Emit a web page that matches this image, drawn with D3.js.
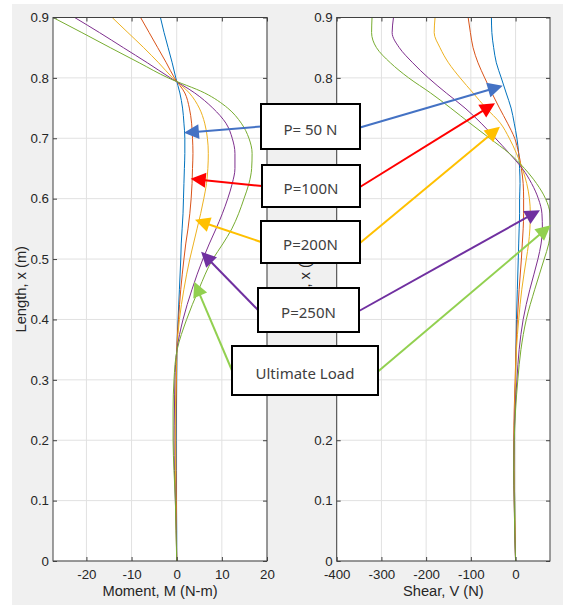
<!DOCTYPE html>
<html>
<head>
<meta charset="utf-8">
<script src="https://cdn.jsdelivr.net/npm/d3@7"></script>
<style>
  body { margin: 0; background: #fff; }
  svg { display: block; }
</style>
</head>
<body>
<script>
// Positions along the member, x (m)
const lengthX = [0, 0.05, 0.1, 0.15, 0.2, 0.25, 0.3, 0.35, 0.4, 0.45, 0.5, 0.525, 0.55, 0.575,
                 0.6, 0.625, 0.65, 0.675, 0.7, 0.725, 0.75, 0.775, 0.8, 0.825, 0.85, 0.875, 0.9];

const loadLabels = ["P= 50 N", "P=100N", "P=200N", "P=250N", "Ultimate Load"];

// Bending moment, M (N-m)
const momentP50  = [0, 0, -0.05, -0.1, -0.1, -0.05, 0, 0.05, 0.3, 0.6, 0.9, 1.0, 1.2, 1.4,
                    1.5, 1.6, 1.7, 1.8, 1.8, 1.6, 1.3, 0.7, -0.2, -1.0, -1.9, -2.8, -3.6];
const momentP100 = [0, -0.05, -0.1, -0.15, -0.2, -0.15, -0.05, 0.02, 0.4, 0.9, 1.6, 2.0, 2.5, 2.9,
                    3.2, 3.4, 3.5, 3.6, 3.5, 3.3, 2.8, 1.8, -0.5, -2.3, -4.2, -6.1, -8.0];
const momentP200 = [0, -0.1, -0.2, -0.3, -0.35, -0.3, -0.15, 0.05, 0.6, 1.6, 2.9, 3.7, 4.5, 5.3,
                    6.0, 6.6, 6.9, 7.0, 6.8, 6.2, 5.0, 2.8, -0.9, -4.0, -7.3, -10.8, -14.3];
const momentP250 = [0, -0.1, -0.3, -0.5, -0.6, -0.5, -0.4, 0.05, 1.4, 3.4, 5.8, 7.2, 8.7, 10.1,
                    11.3, 12.3, 12.9, 12.9, 12.3, 10.9, 8.0, 4.0, -1.4, -6.5, -11.8, -17.1, -22.6];
const momentUlt  = [0, -0.15, -0.3, -0.6, -0.8, -0.8, -0.6, 0.1, 2.2, 4.9, 8.0, 10.2, 12.2, 13.7,
                    14.9, 16.0, 16.6, 16.7, 16.0, 14.3, 11.3, 6.2, -1.9, -8.3, -14.7, -21.0, -27.4];

// Shear force, V (N)
const shearP50  = [0, -1, -2, -3, -3, -2, 0, 1, 2, 4, 6, 7, 8, 9,
                   9, 10, 9, 7, 3, -3, -10, -21, -32, -43, -49, -53, -54];
const shearP100 = [0, -1.5, -3, -4, -4, -3, -1, 1, 4, 8, 13, 15, 17, 18,
                   18, 17, 13, 7, -2, -18, -36, -53, -69, -84, -95, -101, -106];
const shearP200 = [0, -1, -2, -3, -3, -2, 0, 2, 7, 14, 24, 29, 32, 33,
                   31, 25, 15, 2, -14, -34, -66, -95, -124, -150, -169, -182, -180];
const shearP250 = [0, -2, -3, -4, -3, -1, 3, 8, 17, 32, 50, 57, 60, 59,
                   51, 36, 15, -14, -45, -77, -113, -155, -195, -230, -260, -276, -273];
const shearUlt  = [0, -2, -3, -4, -3, 0, 5, 12, 24, 43, 64, 74, 78, 77,
                   67, 47, 20, -14, -58, -102, -145, -190, -239, -280, -311, -322, -321];

// Axis ticks
const momentTicks = [-20, -10, 0, 10, 20];
const shearTicks  = [-400, -300, -200, -100, 0];
const lengthTicks = [0, 0.1, 0.2, 0.3, 0.4, 0.5, 0.6, 0.7, 0.8, 0.9];

// Callout arrow tips, in each panel's data units: [value, x]
const momentArrowTips = [[1.6, 0.709], [3.1, 0.633], [4.05, 0.565], [5.4, 0.512], [3.9, 0.4625]];
const shearArrowTips  = [[-28.8, 0.787], [-46, 0.758], [-35, 0.719], [54.5, 0.581], [78.5, 0.556]];

// ---------------------------------------------------------------
const momentSeries = [momentP50, momentP100, momentP200, momentP250, momentUlt];
const shearSeries  = [shearP50, shearP100, shearP200, shearP250, shearUlt];
const lineColors   = ["#0072BD", "#D95319", "#EDB120", "#7E2F8E", "#77AC30"];
const arrowColors  = ["#4472C4", "#FF0000", "#FFC000", "#7030A0", "#92D050"];

const W = 569, H = 605;
const plotTop = 17.5, plotBottom = 561;
const axisFont = "'Liberation Sans', Arial, Helvetica, sans-serif";
const textColor = "#262626";

const svg = d3.select("body").append("svg")
  .attr("width", W).attr("height", H);

// figure background
svg.append("rect")
  .attr("x", 12).attr("y", 4).attr("width", 551).attr("height", H - 4)
  .attr("fill", "#f0f0f0");

const y = d3.scaleLinear().domain([0, 0.9]).range([plotBottom, plotTop]);

function drawPanel(id, x0, x1, xDomain, xTicks, series, xLabel) {
  const x = d3.scaleLinear().domain(xDomain).range([x0, x1]);
  const g = svg.append("g");

  g.append("rect")
    .attr("x", x0).attr("y", plotTop)
    .attr("width", x1 - x0).attr("height", plotBottom - plotTop)
    .attr("fill", "#fff");

  // grid
  g.append("g").selectAll("line").data(xTicks).join("line")
    .attr("x1", d => x(d)).attr("x2", d => x(d))
    .attr("y1", plotTop).attr("y2", plotBottom)
    .attr("stroke", "#e1e1e1").attr("stroke-width", 1);
  g.append("g").selectAll("line").data(lengthTicks).join("line")
    .attr("x1", x0).attr("x2", x1)
    .attr("y1", d => y(d)).attr("y2", d => y(d))
    .attr("stroke", "#e1e1e1").attr("stroke-width", 1);

  // curves
  svg.append("clipPath").attr("id", id)
    .append("rect").attr("x", x0).attr("y", plotTop)
    .attr("width", x1 - x0).attr("height", plotBottom - plotTop);

  const line = d3.line()
    .x(d => x(d[0])).y(d => y(d[1]))
    .curve(d3.curveMonotoneY);

  g.append("g").attr("clip-path", `url(#${id})`)
    .selectAll("path").data(series).join("path")
    .attr("d", s => line(s.map((v, i) => [v, lengthX[i]])))
    .attr("fill", "none")
    .attr("stroke", (s, i) => lineColors[i])
    .attr("stroke-width", 1);

  // axes (ticks point inward)
  const styleAxis = sel => {
    sel.select(".domain").remove();
    sel.selectAll(".tick line").attr("stroke", "#404040");
    sel.selectAll("text").attr("fill", textColor)
      .style("font-family", axisFont).style("font-size", "13.3px");
  };

  g.append("g").attr("transform", `translate(0,${plotBottom})`)
    .call(d3.axisBottom(x).tickValues(xTicks).tickSizeInner(-4).tickSizeOuter(0).tickPadding(9)
      .tickFormat(d => String(d)))
    .call(styleAxis);
  g.append("g").attr("transform", `translate(0,${plotTop})`)
    .call(d3.axisTop(x).tickValues(xTicks).tickSizeInner(-4).tickSizeOuter(0).tickFormat(""))
    .call(styleAxis);
  g.append("g").attr("transform", `translate(${x0},0)`)
    .call(d3.axisLeft(y).tickValues(lengthTicks).tickSizeInner(-4).tickSizeOuter(0).tickPadding(4)
      .tickFormat(d => d === 0 ? "0" : d3.format(".1f")(d)))
    .call(styleAxis);
  g.append("g").attr("transform", `translate(${x1},0)`)
    .call(d3.axisRight(y).tickValues(lengthTicks).tickSizeInner(-4).tickSizeOuter(0).tickFormat(""))
    .call(styleAxis);

  g.append("rect")
    .attr("x", x0).attr("y", plotTop)
    .attr("width", x1 - x0).attr("height", plotBottom - plotTop)
    .attr("fill", "none").attr("stroke", "#404040").attr("stroke-width", 1);

  // axis titles
  g.append("text")
    .attr("x", (x0 + x1) / 2).attr("y", 596)
    .attr("text-anchor", "middle")
    .attr("fill", textColor)
    .style("font-family", axisFont).style("font-size", "14.7px")
    .text(xLabel);
  g.append("text")
    .attr("transform", `translate(${x0 - 32},${(plotTop + plotBottom) / 2}) rotate(-90)`)
    .attr("text-anchor", "middle")
    .attr("dominant-baseline", "central")
    .attr("fill", textColor)
    .style("font-family", axisFont).style("font-size", "14.7px")
    .text("Length, x (m)");

  return x;
}

const xMoment = drawPanel("clip-moment", 53, 267, [-27.4, 20], momentTicks, momentSeries, "Moment, M (N-m)");
const xShear  = drawPanel("clip-shear", 336.7, 550, [-400, 77], shearTicks, shearSeries, "Shear, V (N)");

// ---------------------------------------------------------------
// Load callouts: a boxed label with an arrow into each panel
const calloutBoxes = [
  { x: 261, y: 104, w: 99, h: 45 },
  { x: 262, y: 165, w: 98, h: 42 },
  { x: 261, y: 221, w: 99, h: 42 },
  { x: 258, y: 288, w: 101, h: 44 },
  { x: 232, y: 346, w: 146, h: 49 }
];

const arrows = svg.append("g");
function arrow(x0, y0, x1, y1, color) {
  const len = Math.hypot(x1 - x0, y1 - y0);
  const ux = (x1 - x0) / len, uy = (y1 - y0) / len;
  const headL = 15, headW = 7.5;
  const bx = x1 - ux * headL, by = y1 - uy * headL;
  arrows.append("line")
    .attr("x1", x0).attr("y1", y0).attr("x2", bx + ux).attr("y2", by + uy)
    .attr("stroke", color).attr("stroke-width", 2);
  arrows.append("path")
    .attr("d", `M${x1},${y1}L${bx - uy * headW},${by + ux * headW}L${bx + uy * headW},${by - ux * headW}Z`)
    .attr("fill", color);
}

loadLabels.forEach((label, i) => {
  const b = calloutBoxes[i];
  const cy = b.y + b.h / 2;
  const [m, mx] = momentArrowTips[i];
  const [v, vx] = shearArrowTips[i];
  arrow(b.x, cy, xMoment(m), y(mx), arrowColors[i]);
  arrow(b.x + b.w, cy + 1, xShear(v), y(vx), arrowColors[i]);
});

const boxes = svg.append("g");
loadLabels.forEach((label, i) => {
  const b = calloutBoxes[i];
  boxes.append("rect")
    .attr("x", b.x).attr("y", b.y).attr("width", b.w).attr("height", b.h)
    .attr("fill", "#fff").attr("stroke", "#000").attr("stroke-width", 2);
  boxes.append("text")
    .attr("x", b.x + b.w / 2).attr("y", b.y + b.h / 2 + 8)
    .attr("text-anchor", "middle")
    .attr("fill", "#404040")
    .style("font-family", "'Noto Sans', 'Open Sans', sans-serif")
    .style("font-size", "15px")
    .text(label);
});
</script>
</body>
</html>
